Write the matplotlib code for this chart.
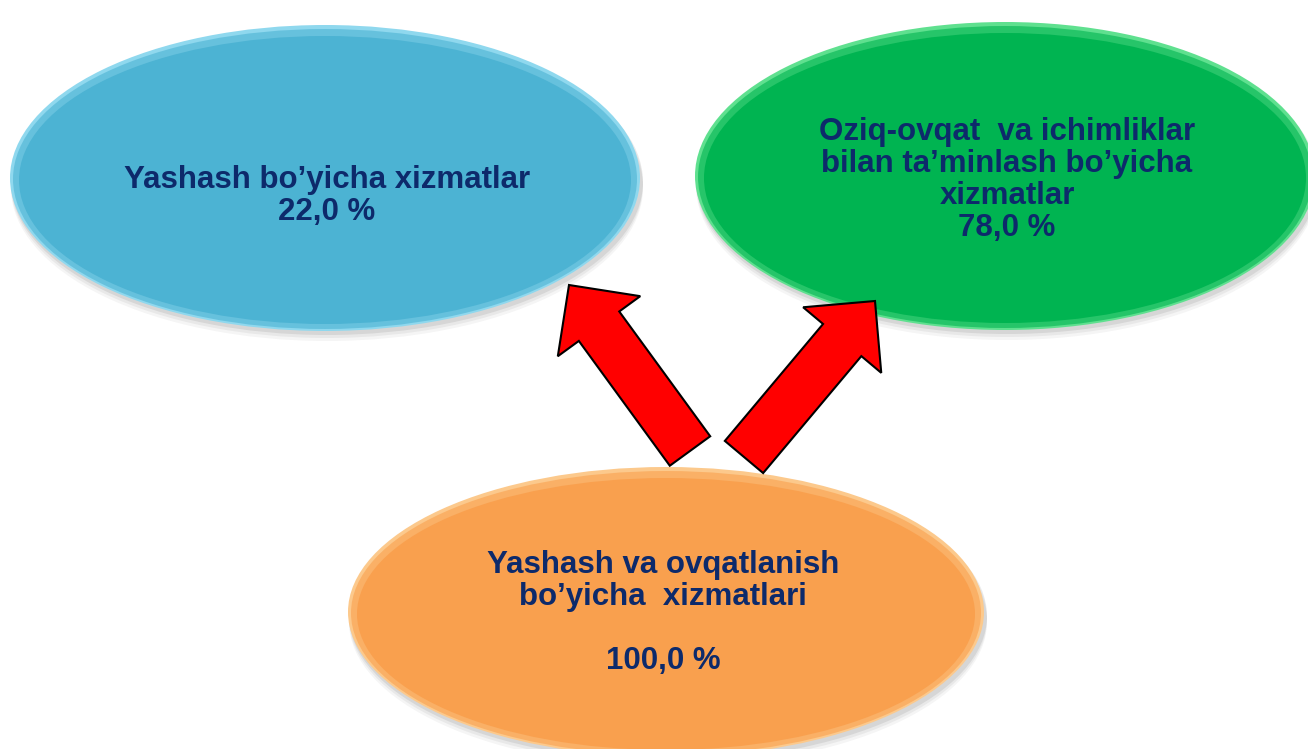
import matplotlib.pyplot as plt
from matplotlib.patches import Ellipse, FancyArrow

# node labels and shares
labels = ["Yashash bo\u2019yicha xizmatlar",
          "Oziq-ovqat  va ichimliklar\nbilan ta\u2019minlash bo\u2019yicha\nxizmatlar",
          "Yashash va ovqatlanish\nbo\u2019yicha  xizmatlari\n"]
shares = [22.0, 78.0, 100.0]
fills = ["#4cb3d3", "#00b451", "#f9a04e"]
rims = ["#8fd8ee", "#5fe08f", "#fcc98c"]

# ellipse centres / half-sizes in pixel units
centers = [(325, 178), (1005, 176), (666, 612)]
halves = [(315, 153), (310, 154), (318, 145)]
text_pos = [(327, 196), (1007, 180), (663, 613)]

# arrows: tail centre -> tip
arrows = [((690, 451), (569, 285)), ((744, 457), (875, 301))]

fig = plt.figure(figsize=(13.08, 7.49), dpi=100)
ax = fig.add_axes([0, 0, 1, 1])
ax.set_xlim(0, 1308)
ax.set_ylim(749, 0)
ax.axis('off')

for (cx, cy), (hw, hh), fc, rc in zip(centers, halves, fills, rims):
    # soft shadow
    for k, a in [(10, 0.06), (7, 0.08), (4, 0.12)]:
        ax.add_patch(Ellipse((cx + 2, cy + k), 2 * hw + 2, 2 * hh, color='#555555', alpha=a, lw=0, zorder=1))
    ax.add_patch(Ellipse((cx, cy), 2 * hw, 2 * hh, color=rc, lw=0, zorder=2))
    ax.add_patch(Ellipse((cx, cy + 1), 2 * hw - 6, 2 * hh - 6, color=fc, alpha=0.6, lw=0, zorder=3))
    ax.add_patch(Ellipse((cx, cy + 2), 2 * hw - 18, 2 * hh - 18, color=fc, lw=0, zorder=4))

for (tx, ty), lab, val in zip(text_pos, labels, shares):
    txt = "{}\n{:.1f} %".format(lab, val).replace('.', ',')
    ax.text(tx, ty, txt, ha='center', va='center', fontsize=22.5, fontweight='bold',
            family='Liberation Sans', color='#0d2a6b', linespacing=1.08, zorder=6)

for (x0, y0), (x1, y1) in arrows:
    ax.add_patch(FancyArrow(x0, y0, x1 - x0, y1 - y0, width=50, head_width=102, head_length=51,
                            length_includes_head=True, fc='#ff0000', ec='black', lw=1.5, zorder=5))

fig.savefig('out.png', dpi=100)
